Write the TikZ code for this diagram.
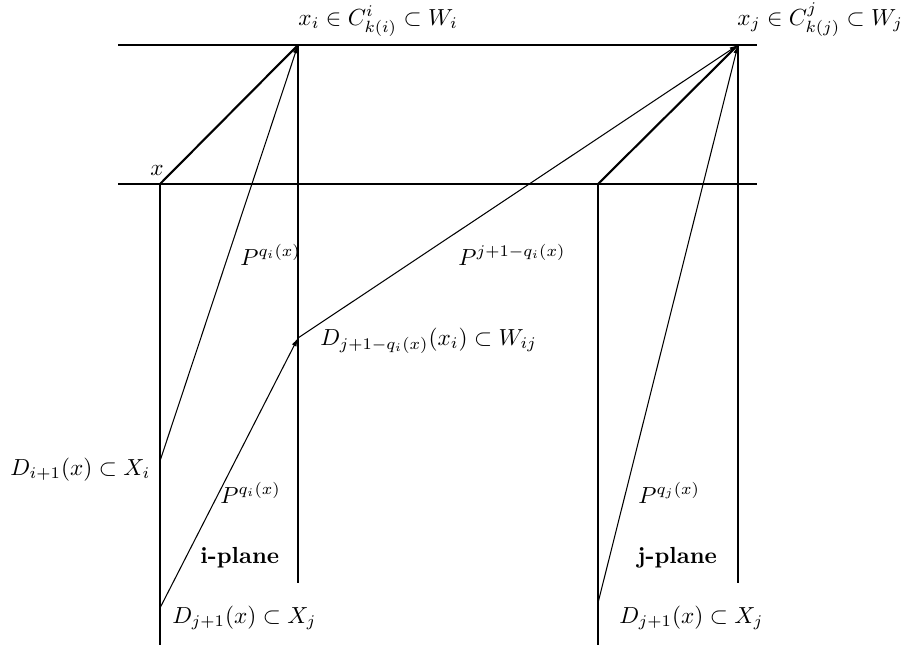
\documentclass[tikz,border=0pt]{standalone}
\usetikzlibrary{arrows.meta}
\begin{document}
\begin{tikzpicture}[x=0.43pt,y=-0.43pt,
  frame/.style={line width=0.9pt},
  flow/.style={line width=0.45pt,-{Latex[length=3.6pt,width=2.2pt]}},
  lab/.style={anchor=base west,inner sep=0pt}]
\useasboundingbox (0,0) rectangle (901,645);
% key points
\coordinate (TL) at (118,45);  \coordinate (TR) at (757,45);
\coordinate (ML) at (118,184); \coordinate (MR) at (757,184);
\coordinate (x)  at (160,184);
\coordinate (xi) at (298,45);
\coordinate (xj) at (738,45);
\coordinate (y)  at (598,184);
\coordinate (ibot) at (160,645);
\coordinate (itop) at (298,583);
\coordinate (jbot) at (598,645);
\coordinate (jtop) at (738,583);
\coordinate (Di) at (160,461);
\coordinate (Dj) at (160,608);
\coordinate (Dm) at (298,338);
\coordinate (Djr) at (598,603);
% frame lines
\draw[frame] (TL) -- (TR);
\draw[frame] (ML) -- (MR);
\draw[frame] (x) -- (ibot);
\draw[frame] (xi) -- (itop);
\draw[frame] (y) -- (jbot);
\draw[frame] (xj) -- (jtop);
\draw[frame] (x) -- (xi);
\draw[frame] (y) -- (xj);
% arrows
\draw[flow] (Di) -- (xi);
\draw[flow] (Dj) -- (Dm);
\draw[flow] (Dm) -- (xj);
\draw[flow] (Djr) -- (xj);
% labels
\node[lab] (lx) at (150,175) {$x$};
\node[lab] (lxi) at (298,25) {$x_i\in C^i_{k(i)}\subset W_i$};
\node[lab] (lxj) at (737,25) {$x_j\in C^j_{k(j)}\subset W_j$};
\node[lab] (lp1) at (240,265) {$P^{q_i(x)}$};
\node[lab] (lp2) at (458,265) {$P^{j+1-q_i(x)}$};
\node[lab] (ldm) at (320,345) {$D_{j+1-q_i(x)}(x_i)\subset W_{ij}$};
\node[lab] (ldi) at (10,475) {$D_{i+1}(x)\subset X_i$};
\node[lab] (lp3) at (220,503) {$P^{q_i(x)}$};
\node[lab] (lp4) at (638,503) {$P^{q_j(x)}$};
\node[lab] (lip) at (200,563) {\textbf{i-plane}};
\node[lab] (ljp) at (637,563) {\textbf{j-plane}};
\node[lab] (ldj) at (172,623) {$D_{j+1}(x)\subset X_j$};
\node[lab] (ldjr) at (619,623) {$D_{j+1}(x)\subset X_j$};
\end{tikzpicture}
\end{document}
